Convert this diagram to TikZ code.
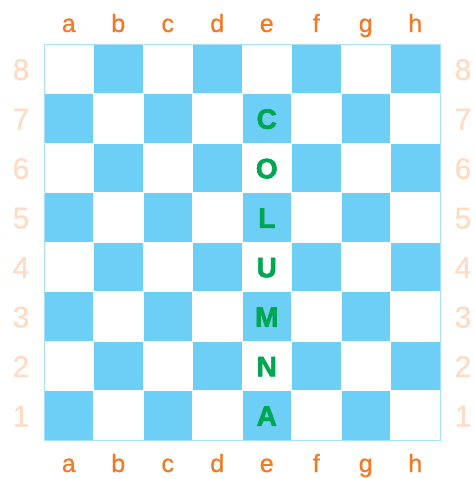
\documentclass[tikz,border=0pt]{standalone}
\usepackage{fontspec}
\setmainfont{Liberation Sans}
\definecolor{sqblue}{HTML}{6DCFF6}
\definecolor{edgeblue}{HTML}{A6E0FA}
\definecolor{fileorange}{HTML}{F07A28}
\definecolor{rankpeach}{HTML}{FDDCC5}
\definecolor{wordgreen}{HTML}{00A651}
\newfontfamily\medfont[FakeBold=0.8]{Liberation Sans}
\newfontfamily\heavyfont[FakeBold=2.2]{Liberation Sans Bold}
\tikzset{
  filelabel/.style={text=fileorange, font=\medfont\fontsize{25}{25}\selectfont, anchor=base, inner sep=0pt},
  ranklabel/.style={text=rankpeach, font=\medfont\fontsize{30}{30}\selectfont, anchor=base, inner sep=0pt},
  wordletter/.style={text=wordgreen, font=\heavyfont\fontsize{28}{28}\selectfont, anchor=base, inner sep=0pt},
  darksq/.style={fill=sqblue, draw=white, line width=0.4pt},
}
\begin{document}
\begin{tikzpicture}[x=1pt,y=-1pt]
\useasboundingbox (0,0) rectangle (474,479);
\def\sq{49.5}
\def\ox{44}
\def\oy{44}
% squares
\foreach \f in {0,...,7}{
  \foreach \r in {1,...,8}{
    \pgfmathtruncatemacro{\sqpar}{mod(\f+\r,2)}
    \ifnum\sqpar=1
      \path[darksq] ({\ox+\f*\sq},{\oy+(8-\r)*\sq}) rectangle ++(\sq,\sq);
    \fi
  }
}
\draw[edgeblue, line width=1pt] (\ox,\oy) rectangle ++(8*\sq,8*\sq);
% file labels
\foreach \l [count=\i from 0] in {a,b,c,d,e,f,g,h}{
  \node[filelabel] (top\l) at ({\ox+(\i+0.5)*\sq},32) {\l};
  \node[filelabel] (bot\l) at ({\ox+(\i+0.5)*\sq},472) {\l};
}
% rank labels
\foreach \r in {1,...,8}{
  \node[ranklabel] (left\r) at (21,{\oy+(8-\r)*\sq+36}) {\r};
  \node[ranklabel] (right\r) at (463,{\oy+(8-\r)*\sq+36}) {\r};
}
% word
\foreach \l [count=\i from 0] in {C,O,L,U,M,N,A}{
  \node[wordletter] (w\i) at ({\ox+4.5*\sq},{\oy+(1.5+\i)*\sq+10.5}) {\l};
}
\end{tikzpicture}
\end{document}
